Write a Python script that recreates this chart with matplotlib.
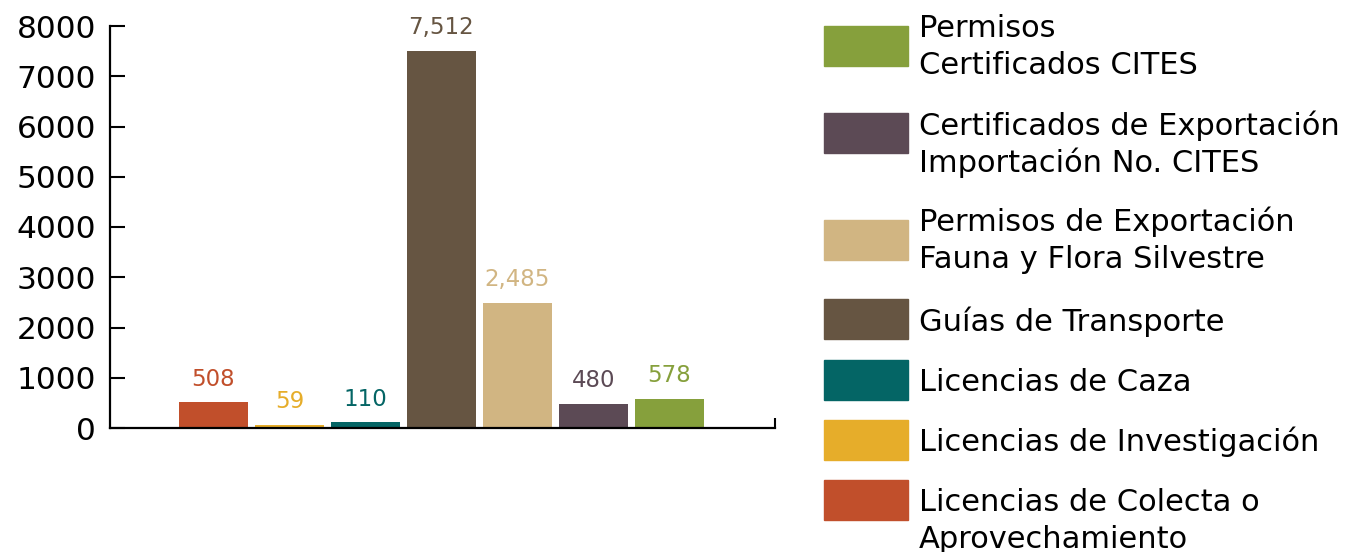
import matplotlib
matplotlib.use('Agg')
import matplotlib.pyplot as plt
from matplotlib.patches import Rectangle

plt.rcParams['font.family'] = ['DejaVu Sans']

#----data----
categories = ['Licencias de Colecta o\nAprovechamiento',
              'Licencias de Investigación',
              'Licencias de Caza',
              'Guías de Transporte',
              'Permisos de Exportación\nFauna y Flora Silvestre',
              'Certificados de Exportación\nImportación No. CITES',
              'Permisos\nCertificados CITES']
values = [508, 59, 110, 7512, 2485, 480, 578]
colors = ['#C14F2B', '#E6AD2A', '#046565', '#665542', '#D1B582', '#5C4A55', '#86A03C']
yticks = [0, 1000, 2000, 3000, 4000, 5000, 6000, 7000, 8000]

W, H = 1356, 552
fig = plt.figure(figsize=(W / 100, H / 100), dpi=100, facecolor='white')
ax = fig.add_axes([110 / W, 1 - 428 / H, (775 - 110) / W, (428 - 26) / H])

x = list(range(len(values)))
ax.bar(x, values, width=0.91, color=colors, zorder=1)

for xi, v, c in zip(x, values, colors):
    ax.annotate(f'{v:,}', (xi, v), xytext=(0, 12), textcoords='offset points',
                ha='center', va='baseline', fontsize=16.5, color=c)

#------axes styling------
ax.set_xlim(-1.36, 7.39)
ax.set_ylim(0, 8000)
ax.set_yticks(yticks)
ax.set_yticklabels([str(t) for t in yticks], fontsize=22.5)
ax.tick_params(axis='y', direction='in', length=11, width=1.5, pad=10)
ax.set_xticks([7.39])
ax.set_xticklabels([''])
ax.tick_params(axis='x', direction='in', length=7, width=1.5)
for s in ['top', 'right']:
    ax.spines[s].set_visible(False)
for s in ['left', 'bottom']:
    ax.spines[s].set_linewidth(1.6)
    ax.spines[s].set_zorder(3)

#------legend (drawn by hand, top to bottom)------
baseline_y = [511, 451, 391, 331, 231, 135, 37]
patch_y = [500, 440, 380, 319, 240, 133, 46]
line_gap = 37
for lab, c, by, py in zip(categories, colors, baseline_y, patch_y):
    fig.patches.append(Rectangle((824 / W, 1 - (py + 20) / H), 84 / W, 40 / H,
                                 transform=fig.transFigure, color=c))
    for k, line in enumerate(lab.split('\n')):
        fig.text(919 / W, 1 - (by + k * line_gap) / H, line, fontsize=22,
                 va='baseline', ha='left')

fig.savefig('out.png', dpi=100, facecolor='white')
